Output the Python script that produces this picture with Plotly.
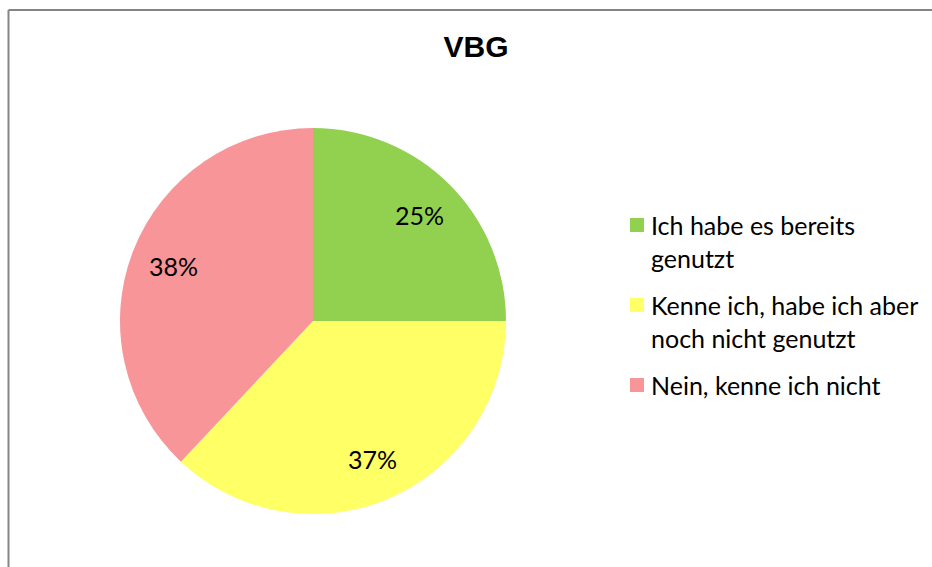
import math
import plotly.graph_objects as go

categories = [
    "Ich habe es bereits<br>genutzt",
    "Kenne ich, habe ich aber<br>noch nicht genutzt",
    "Nein, kenne ich nicht",
]
values = [25, 37, 38]
colors = ["#92D050", "#FFFF66", "#F79599"]
title_text = "VBG"

W, H = 932, 567


def px(x):
    return x / W


def py(y):
    return 1 - y / H


cx, cy, r = 313, 321, 193
label_r = 0.78 * r
FONT = "Lato"
FS = 25

fig = go.Figure(
    go.Pie(
        labels=categories,
        values=values,
        sort=False,
        direction="clockwise",
        rotation=0,
        marker=dict(colors=colors, line=dict(width=0)),
        textinfo="none",
        domain=dict(x=[px(cx - r), px(cx + r)], y=[py(cy + r), py(cy - r)]),
        hoverinfo="label+percent",
        showlegend=False,
    )
)

annotations = []
shapes = []

# percentage labels, placed along each slice's bisector
total = sum(values)
cum = 0
for v in values:
    theta = 2 * math.pi * (cum + v / 2) / total
    cum += v
    lx = cx + label_r * math.sin(theta)
    ly = cy - label_r * math.cos(theta)
    annotations.append(
        dict(
            x=px(lx), y=py(ly), xref="paper", yref="paper",
            text=f"{round(100 * v / total)}%", showarrow=False,
            xanchor="center", yanchor="middle",
            font=dict(family=FONT, size=FS, color="#000000"),
        )
    )

# legend (drawn manually to match spacing)
line_h = 33
entry_top = 225  # centre of first line of first entry
gap_entries = 14
y_line = entry_top
for name, col in zip(categories, colors):
    nlines = name.count("<br>") + 1
    shapes.append(
        dict(
            type="rect", xref="paper", yref="paper",
            x0=px(630), x1=px(644), y0=py(y_line + 7), y1=py(y_line - 7),
            fillcolor=col, line=dict(width=0),
        )
    )
    annotations.append(
        dict(
            x=px(649), y=py(y_line + (nlines - 1) * line_h / 2),
            xref="paper", yref="paper", text=name, showarrow=False,
            xanchor="left", yanchor="middle", align="left",
            font=dict(family=FONT, size=FS, color="#000000"),
        )
    )
    y_line += nlines * line_h + gap_entries

# chart frame (left and top edges visible)
frame = dict(color="#858585", width=2)
shapes.append(dict(type="line", xref="paper", yref="paper",
                   x0=px(8.5), x1=px(8.5), y0=0, y1=py(10), line=frame))
shapes.append(dict(type="line", xref="paper", yref="paper",
                   x0=px(8.5), x1=1, y0=py(10), y1=py(10), line=frame))

fig.update_layout(
    width=W,
    height=H,
    margin=dict(l=0, r=0, t=0, b=0),
    paper_bgcolor="#FFFFFF",
    plot_bgcolor="#FFFFFF",
    showlegend=False,
    title=dict(
        text="<b>" + title_text + "</b>",
        font=dict(family="Liberation Sans", size=30, color="#000000"),
        x=px(476),
        xanchor="center",
        y=py(46),
        yanchor="middle",
    ),
    annotations=annotations,
    shapes=shapes,
)

fig.write_html(
    "out.html",
    config={"displayModeBar": False},
    post_script="document.body.style.margin='0';document.body.style.overflow='hidden';",
)
